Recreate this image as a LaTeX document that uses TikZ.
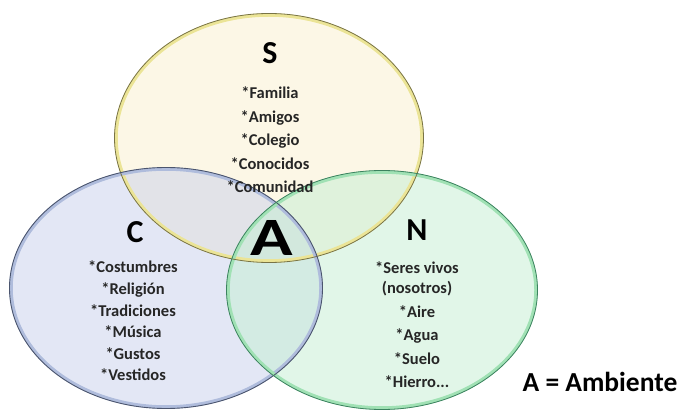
\documentclass[tikz,border=0pt]{standalone}
\usepackage{fontspec}
\setmainfont{Carlito}
\usetikzlibrary{shapes.geometric}
\definecolor{sfill}{RGB}{250,240,205}
\definecolor{sline}{RGB}{120,115,70}
\definecolor{sglow}{RGB}{235,228,150}
\definecolor{cfill}{RGB}{200,208,235}
\definecolor{cline}{RGB}{75,85,110}
\definecolor{cglow}{RGB}{175,188,220}
\definecolor{nfill}{RGB}{195,238,210}
\definecolor{nline}{RGB}{60,130,95}
\definecolor{nglow}{RGB}{160,225,180}
\tikzset{
  setfill/.style={ellipse, inner sep=0pt, fill opacity=0.5},
  setline/.style={ellipse, inner sep=0pt},
  biglabel/.style={font=\fontsize{32}{32}\selectfont\bfseries, text=black},
  items/.style={align=center, font=\fontsize{16.5}{23.5}\selectfont\bfseries, text=black!85},
}
\begin{document}
\begin{tikzpicture}[x=1pt,y=-1pt]
\useasboundingbox (0,0) rectangle (682,411);
% fills
\node[setfill, fill=sfill, minimum width=308pt, minimum height=248pt] (Sf) at (269,138) {};
\node[setfill, fill=cfill, minimum width=312pt, minimum height=240pt] (Cf) at (166,288) {};
\node[setfill, fill=nfill, minimum width=310pt, minimum height=238pt] (Nf) at (382,290) {};
% outlines
\node[setline, draw=sglow, line width=3.5pt, minimum width=306pt, minimum height=246pt] (Sg) at (269,138) {};
\node[setline, draw=cglow, line width=3.5pt, minimum width=310pt, minimum height=238pt] (Cg) at (166,288) {};
\node[setline, draw=nglow, line width=3.5pt, minimum width=308pt, minimum height=236pt] (Ng) at (382,290) {};
\node[setline, draw=sline, line width=0.8pt, minimum width=309pt, minimum height=249pt] (S) at (269,138) {};
\node[setline, draw=cline, line width=0.9pt, minimum width=313pt, minimum height=241pt] (C) at (166,288) {};
\node[setline, draw=nline, line width=0.8pt, minimum width=311pt, minimum height=239pt] (N) at (382,290) {};
% labels
\node[biglabel] (Slab) at (270,53) {S};
\node[biglabel] (Clab) at (135,232) {C};
\node[biglabel] (Nlab) at (417,230) {N};
\node[font=\fontsize{54}{54}\selectfont\bfseries] (A) at (272,238) {\scalebox{1.3}[1]{A}};
\node[items] (Slist) at (270,140) {*Familia\\*Amigos\\*Colegio\\*Conocidos\\*Comunidad};
\node[items, font=\fontsize{16.5}{21.6}\selectfont\bfseries] (Clist) at (133,321) {*Costumbres\\*Religión\\*Tradiciones\\*Música\\*Gustos\\*Vestidos};
\node[items] (Nlist) at (417,325) {*Seres vivos\\[-3.5pt](nosotros)\\*Aire\\*Agua\\*Suelo\\*Hierro...};
\node[font=\fontsize{27.5}{27.5}\selectfont\bfseries] (legend) at (600,382) {A = Ambiente};
\end{tikzpicture}
\end{document}
